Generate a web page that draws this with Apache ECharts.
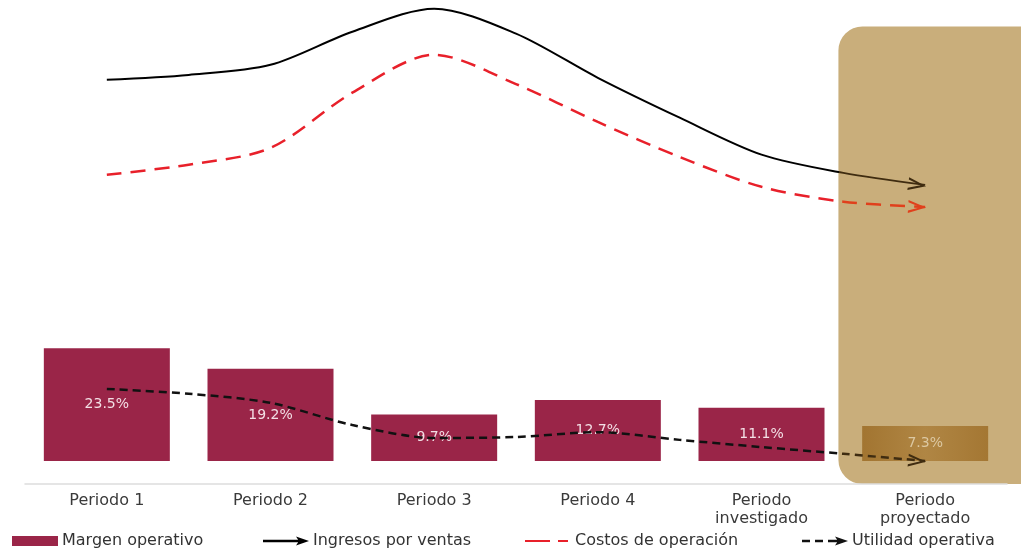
<!DOCTYPE html>
<html>
<head>
<meta charset="utf-8">
<script src="https://cdn.jsdelivr.net/npm/echarts@6/dist/echarts.min.js"></script>
<style>
html,body{margin:0;padding:0;background:#fff;}
#chart{width:1021px;height:550px;}
</style>
</head>
<body>
<div id="chart"></div>
<script>
// ---- data ----
const categories = ['Periodo 1', 'Periodo 2', 'Periodo 3', 'Periodo 4', 'Periodo\ninvestigado', 'Periodo\nproyectado'];
const margenOperativo = [23.5, 19.2, 9.7, 12.7, 11.1, 7.3];
const margenLabels = ['23.5%', '19.2%', '9.7%', '12.7%', '11.1%', '7.3%'];
// schematic trend lines, read at every half period (position 0 = Periodo 1)
const linePositions = [0, 0.5, 1, 1.5, 2, 2.5, 3, 3.5, 4, 4.5, 5];
const ingresosVentas = [79.4, 80.4, 82.5, 89.4, 94.2, 89.0, 79.8, 71.5, 63.8, 60.0, 57.5];
const costosOperacion = [59.6, 61.7, 65.2, 76.7, 84.6, 78.5, 70.6, 63.3, 57.1, 54.0, 52.9];
const utilidadOperativa = [15.0, 14.0, 12.1, 7.5, 4.8, 5.0, 6.0, 4.4, 2.9, 1.5, 0.0];
const seriesNames = ['Margen operativo', 'Ingresos por ventas', 'Costos de operación', 'Utilidad operativa'];

// ---- styles ----
const FONT = '"DejaVu Sans", sans-serif';
const CRIMSON = '#9a2548';
const TAN = '#c9ae7b';
const RED = '#e8202a';
const ARROW = 'path://M0,0L16,6.5L0,13L0,10.6L11,6.5L0,2.4Z';
const BOX = 'M0,0L0.01,0L0,0.01Z M46,10L45.99,10L46,9.99Z ';
const legendIcons = [
  'rect',
  'path://' + BOX + 'M0,3.8H40V6.2H0Z M33,0.5L46,5L33,9.5L36,5Z',
  'path://' + BOX + 'M0,3.9H25V6.1H0Z M33,3.9H43V6.1H33Z',
  'path://' + BOX + 'M0,3.8H8V6.2H0Z M13,3.8H21V6.2H13Z M26,3.8H40V6.2H26Z M33,0.5L46,5L33,9.5L36,5Z'
];
const legendLeft = [7, 258, 520, 797];

const chart = echarts.init(document.getElementById('chart'), null, {renderer: 'canvas'});

function withArrow(values, color, rotate) {
  return values.map((v, i) => {
    const pt = [linePositions[i], v];
    if (i < values.length - 1) return {value: pt, symbol: 'none'};
    return {
      value: pt, symbol: ARROW, symbolSize: [18, 13], symbolRotate: rotate,
      symbolOffset: [-8, 0], itemStyle: {color: color}
    };
  });
}

function grad(c1, c2, split, W) {
  const s = Math.max(0, Math.min(1, split / W));
  return {type: 'linear', x: 0, y: 0, x2: W, y2: 0, global: true,
    colorStops: [{offset: 0, color: c1}, {offset: s, color: c1},
                 {offset: Math.min(1, s + 0.0005), color: c2}, {offset: 1, color: c2}]};
}

const option = {
  animation: false,
  textStyle: {fontFamily: FONT},
  grid: {left: 25, right: 14, top: 0, bottom: 89, containLabel: false},
  xAxis: [{
    type: 'category', data: categories, offset: 23,
    axisLine: {onZero: false, lineStyle: {color: '#dddddd', width: 1.5}},
    axisTick: {show: false},
    axisLabel: {color: '#3a3a3a', fontSize: 16, lineHeight: 18, margin: 8, fontFamily: FONT}
  }, {
    type: 'value', min: -0.5, max: 5.5, show: false
  }],
  yAxis: {type: 'value', min: 0, max: 96, show: false},
  legend: seriesNames.map((n, i) => ({
    top: 528, left: legendLeft[i], itemWidth: 46, itemHeight: 10, itemGap: 6,
    symbolKeepAspect: false,
    textStyle: {color: '#333', fontSize: 16, fontFamily: FONT, padding: [0, 0, 0, -1]},
    itemStyle: {borderWidth: 0},
    data: [{name: n, icon: legendIcons[i]}]
  })),
  series: [
    {
      name: seriesNames[0], type: 'bar', barWidth: 126, z: 2, xAxisIndex: 0,
      itemStyle: {color: CRIMSON},
      label: {show: true, position: 'inside', color: '#f3dfe5', fontSize: 14, fontFamily: FONT,
              formatter: p => margenLabels[p.dataIndex]},
      data: margenOperativo.map((v, i) => i === margenOperativo.length - 1 ? {
        value: v,
        itemStyle: {color: {type: 'linear', x: 0, y: 0, x2: 1, y2: 0, colorStops: [
          {offset: 0, color: '#a27531'}, {offset: 0.5, color: '#b08644'}, {offset: 1, color: '#a47733'}]}},
        label: {color: '#dcc8a2'}
      } : v)
    },
    {
      name: seriesNames[1], type: 'line', smooth: 0.3, z: 4, xAxisIndex: 1, clip: false,
      itemStyle: {color: '#000'},
      lineStyle: {color: '#000', width: 2},
      data: withArrow(ingresosVentas, '#3f2c10', -8)
    },
    {
      name: seriesNames[2], type: 'line', smooth: 0.3, z: 4, xAxisIndex: 1, clip: false,
      itemStyle: {color: RED},
      lineStyle: {color: RED, width: 2.5, type: [15, 9]},
      data: withArrow(costosOperacion, '#e0401c', -3.5)
    },
    {
      name: seriesNames[3], type: 'line', smooth: 0.3, z: 4, xAxisIndex: 1, clip: false,
      itemStyle: {color: '#111'},
      lineStyle: {color: '#111', width: 2.5, type: [8, 5]},
      data: withArrow(utilidadOperativa, '#3f2c10', -5.5)
    }
  ]
};

chart.setOption(option);

// highlight panel behind the projected period, placed from the axis scale
const last = categories.length - 1;
const cx = chart.convertToPixel({xAxisIndex: 0}, last);
const band = chart.convertToPixel({xAxisIndex: 0}, 1) - chart.convertToPixel({xAxisIndex: 0}, 0);
const left = cx - band * 0.53;
const baseY = chart.convertToPixel({yAxisIndex: 0}, 0);
const topY = chart.convertToPixel({yAxisIndex: 0}, 90.5);
const W = chart.getWidth();

chart.setOption({
  graphic: [{
    type: 'rect', z: 0, silent: true,
    shape: {x: left, y: topY, width: W - left + 40, height: baseY + 23 - topY, r: 24},
    style: {fill: TAN}
  }],
  series: [
    {},
    {lineStyle: {color: grad('#000', '#3f2c10', left, W)}},
    {lineStyle: {color: grad(RED, '#e0401c', left, W)}},
    {lineStyle: {color: grad('#111', '#3f2c10', left, W)}}
  ]
});
</script>
</body>
</html>
